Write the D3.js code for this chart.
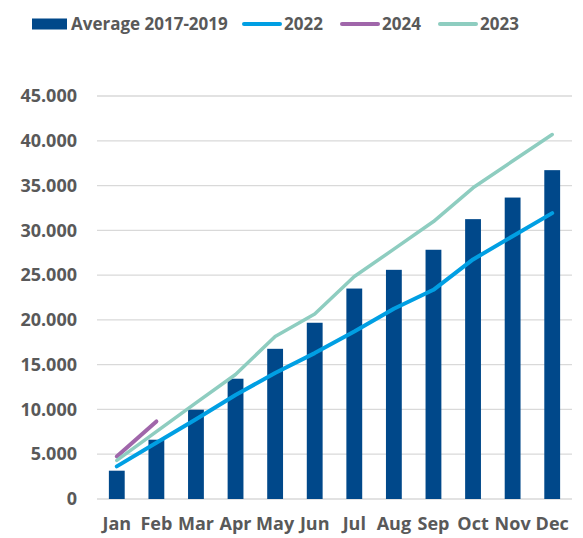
<!DOCTYPE html>
<html>
<head>
<meta charset="utf-8">
<script src="https://cdn.jsdelivr.net/npm/d3@7"></script>
<style>
  body { margin: 0; background: #fff; }
  text { font-family: "Open Sans", sans-serif; font-weight: bold; fill: #595959; }
</style>
</head>
<body>
<script>
const months = ["Jan", "Feb", "Mar", "Apr", "May", "Jun", "Jul", "Aug", "Sep", "Oct", "Nov", "Dec"];
const avg2017_2019 = [3160, 6620, 9970, 13430, 16770, 19680, 23500, 25590, 27830, 31250, 33660, 36720];
const y2022 = [3640, 6280, 8900, 11620, 14060, 16290, 18700, 21250, 23360, 26750, 29350, 31920];
const y2023 = [4310, 7520, 10740, 13900, 18150, 20650, 24840, 27900, 30980, 34750, 37740, 40700];
const y2024 = [4750, 8660];
const yTicks = [0, 5000, 10000, 15000, 20000, 25000, 30000, 35000, 40000, 45000];

const baseWidth = 583, baseHeight = 538;
const margin = { top: 96, right: 11, bottom: 39, left: 97 };
const width = baseWidth - margin.left - margin.right;
const height = baseHeight - margin.top - margin.bottom;

const colors = {
  avg: "#00488A",
  y2022: "#009FE3",
  y2024: "#A066AA",
  y2023: "#8ECDC0",
};

const fmt = (v) => d3.format(",")(v).replace(/,/g, ".");

const svg = d3
  .select("body")
  .append("svg")
  .attr("width", baseWidth)
  .attr("height", baseHeight);

const chart = svg
  .append("g")
  .attr("transform", "translate(" + margin.left + "," + margin.top + ")");

const x = d3
  .scaleBand()
  .domain(months)
  .range([0, width])
  .paddingInner(0.6)
  .paddingOuter(0.3);
const y = d3.scaleLinear().domain([0, 45000]).range([height, 0]);
const xc = (m) => x(m) + x.bandwidth() / 2;

// gridlines
chart
  .selectAll(".grid")
  .data(yTicks)
  .enter()
  .append("line")
  .attr("x1", 0)
  .attr("x2", width)
  .attr("y1", (d) => y(d))
  .attr("y2", (d) => y(d))
  .attr("stroke", "#D9D9D9")
  .attr("stroke-width", 1.3);

// y labels
const yAxis = d3.axisLeft(y).tickValues(yTicks).tickFormat(fmt).tickSize(0).tickPadding(20);
chart
  .append("g")
  .call(yAxis)
  .call((g) => g.select(".domain").remove())
  .selectAll("text")
  .attr("font-size", 18)
  .style("font-family", "'Open Sans', sans-serif")
  .attr("fill", "#595959");

// x labels
const xAxis = d3.axisBottom(x).tickSize(0).tickPadding(18);
chart
  .append("g")
  .attr("transform", "translate(0," + height + ")")
  .call(xAxis)
  .call((g) => g.select(".domain").remove())
  .selectAll("text")
  .attr("font-size", 18)
  .style("font-family", "'Open Sans', sans-serif")
  .attr("fill", "#595959");

// bars
chart
  .selectAll(".bar")
  .data(avg2017_2019)
  .enter()
  .append("rect")
  .attr("x", (d, i) => x(months[i]))
  .attr("width", x.bandwidth())
  .attr("y", (d) => y(d))
  .attr("height", (d) => height - y(d))
  .attr("fill", colors.avg);

// lines
const line = d3
  .line()
  .x((d, i) => xc(months[i]))
  .y((d) => y(d));

[
  [y2022, colors.y2022, 4],
  [y2024, colors.y2024, 4],
  [y2023, colors.y2023, 3.5],
].forEach(([vals, c, w]) => {
  chart
    .append("path")
    .datum(vals)
    .attr("d", line)
    .attr("fill", "none")
    .attr("stroke", c)
    .attr("stroke-width", w)
    .attr("stroke-linecap", "round")
    .attr("stroke-linejoin", "round");
});

// legend
const legendItems = [
  { name: "Average 2017-2019", color: colors.avg, type: "rect", x: 32 },
  { name: "2022", color: colors.y2022, type: "line", x: 243 },
  { name: "2024", color: colors.y2024, type: "line", x: 341 },
  { name: "2023", color: colors.y2023, type: "line", x: 439 },
];

const legend = svg
  .selectAll(".legend")
  .data(legendItems)
  .enter()
  .append("g")
  .attr("class", "legend")
  .attr("transform", (d) => "translate(" + d.x + ",24)");

legend
  .filter((d) => d.type === "rect")
  .append("rect")
  .attr("x", 0)
  .attr("y", -5.5)
  .attr("width", 35)
  .attr("height", 11)
  .attr("fill", (d) => d.color);

legend
  .filter((d) => d.type === "line")
  .append("line")
  .attr("x1", 1)
  .attr("x2", 37)
  .attr("stroke", (d) => d.color)
  .attr("stroke-width", 4)
  .attr("stroke-linecap", "round");

legend
  .append("text")
  .attr("x", (d) => (d.type === "rect" ? 39 : 41))
  .attr("y", 0)
  .attr("dy", "0.35em")
  .attr("font-size", 17)
  .text((d) => d.name);
</script>
</body>
</html>
